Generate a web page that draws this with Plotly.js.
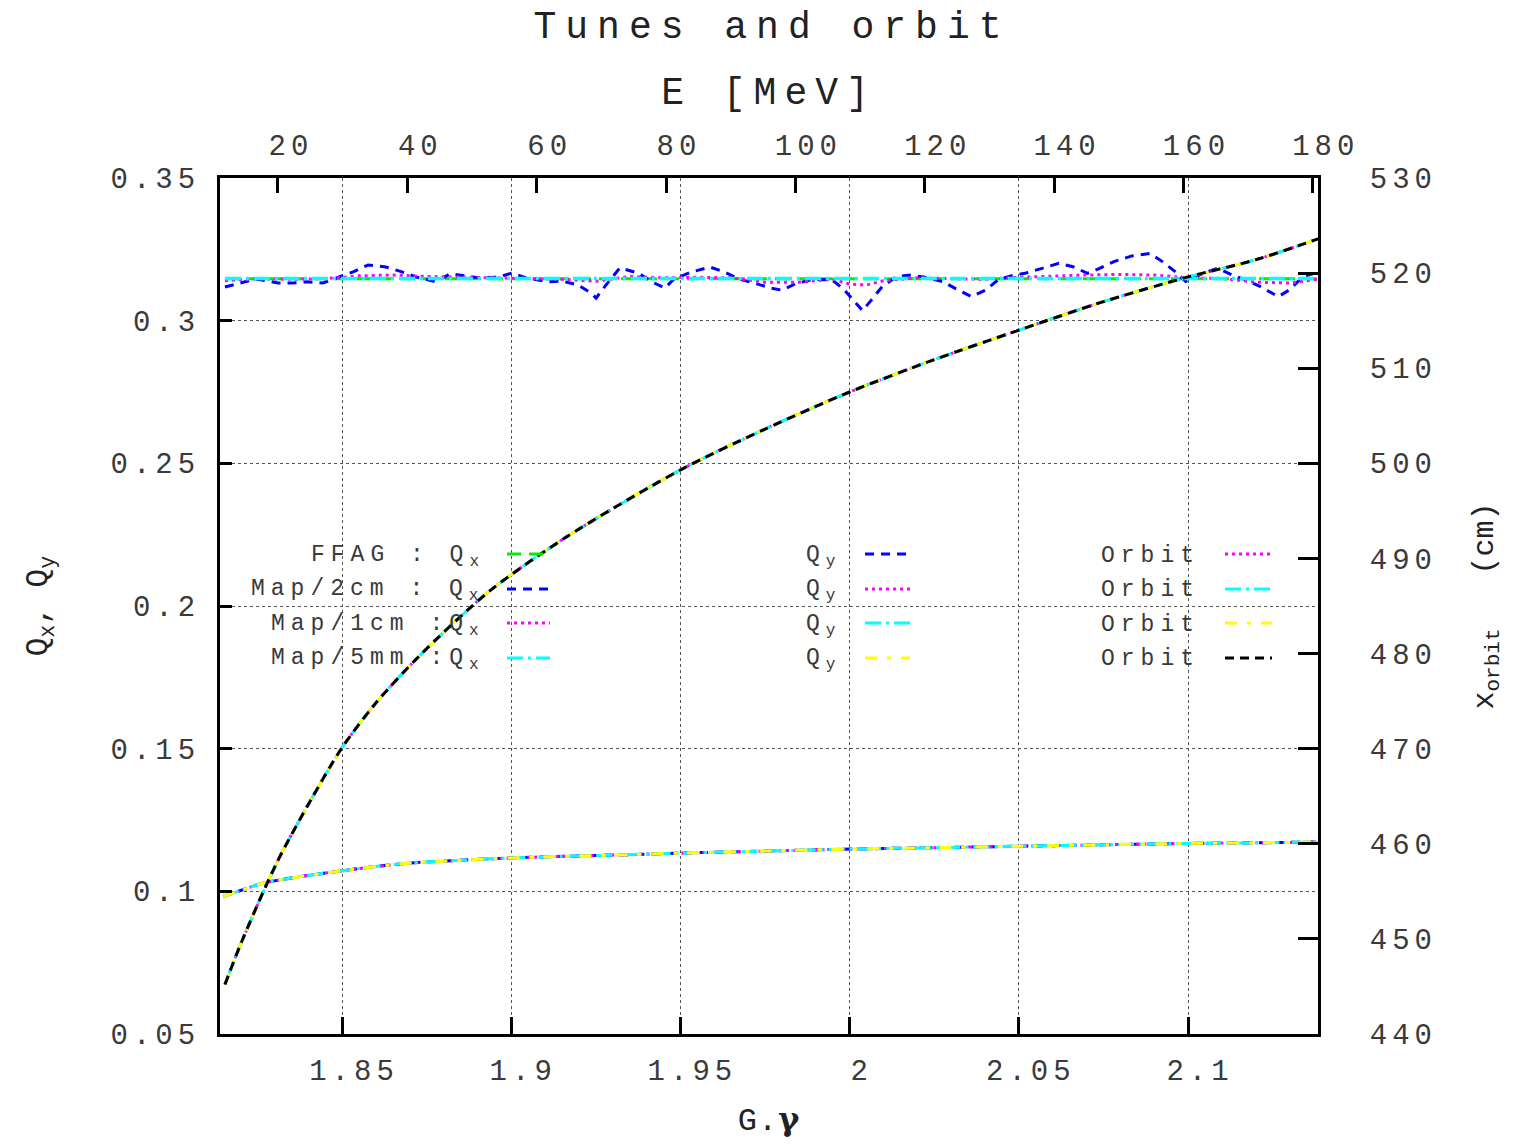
<!DOCTYPE html>
<html>
<head>
<meta charset="utf-8">
<script src="https://cdn.plot.ly/plotly-3.0.1.min.js"></script>
<style>
html,body{margin:0;padding:0;background:#fff;}
#chart{width:1516px;height:1145px;}
.xtick text,.ytick text,.x2tick text,.y2tick text{letter-spacing:5px;}
text.gtitle{letter-spacing:9px;}
text.x2title{letter-spacing:8px;}
text.annotation-text{letter-spacing:6px;}
text.xtitle{letter-spacing:1px;}
</style>
</head>
<body>
<div id="chart"></div>
<script>
// ---- Data ----
// Horizontal tunes Qx (left axis) versus G.gamma
const qxFfagG  = [1.8154, 1.85, 1.90, 1.95, 2.00, 2.05, 2.10, 2.1384];
const qxFfag   = [0.3147, 0.3147, 0.3147, 0.3147, 0.3147, 0.3147, 0.3147, 0.3147];

const qx2cmG = [1.8154,1.8246,1.8311,1.8352,1.8394,1.8444,1.8491,1.8533,1.8577,1.8630,
                1.8677,1.8719,1.8778,1.8819,1.8863,1.8905,1.8964,1.9002,1.9044,1.9109,
                1.9150,1.9197,1.9236,1.9251,1.9268,1.9321,1.9375,1.9416,1.9454,1.9481,
                1.9534,1.9587,1.9629,1.9673,1.9726,1.9768,
                1.9800,1.9843,1.9896,1.9948,1.9980,2.0012,2.0038,2.0064,2.0096,2.0138,
                2.0181,2.0223,2.0275,2.0312,2.0360,2.0402,2.0439,2.0476,2.0518,2.0571,
                2.0618,2.0660,2.0703,2.0740,2.0781,2.0834,2.0888,2.0924,2.0962,2.0993,
                2.1045,2.1088,2.1130,2.1171,2.1214,2.1267,2.1298,2.1340,2.1372];
const qx2cm  = [0.3118,0.3146,0.3132,0.3132,0.3136,0.3132,0.3153,0.3171,0.3195,0.3188,
                0.3171,0.3153,0.3136,0.3164,0.3157,0.3150,0.3153,0.3167,0.3150,0.3136,
                0.3139,0.3125,0.3097,0.3079,0.3107,0.3185,0.3167,0.3136,0.3114,0.3146,
                0.3171,0.3188,0.3171,0.3146,0.3129,0.3114,
                0.3107,0.3131,0.3145,0.3143,0.3113,0.3072,0.3035,0.3072,0.3119,0.3154,
                0.3160,0.3152,0.3137,0.3113,0.3084,0.3107,0.3143,0.3157,0.3166,0.3184,
                0.3201,0.3189,0.3166,0.3184,0.3207,0.3227,0.3236,0.3207,0.3172,0.3137,
                0.3166,0.3184,0.3160,0.3143,0.3119,0.3084,0.3107,0.3154,0.3166];

const qx1cmG = [1.8154,1.825,1.835,1.845,1.855,1.865,1.875,1.885,1.895,1.905,1.915,1.925,
                1.935,1.945,1.955,1.965,1.975,1.985,1.995,2.000,2.005,2.010,2.020,2.030,
                2.040,2.050,2.060,2.070,2.080,2.090,2.100,2.110,2.120,2.130,2.1384];
const qx1cm  = [0.3140,0.3147,0.3145,0.3147,0.3157,0.3160,0.3155,0.3152,0.3150,0.3148,0.3145,0.3138,
                0.3155,0.3150,0.3152,0.3150,0.3135,0.3135,0.3145,0.3128,0.3125,0.3140,0.3150,0.3147,
                0.3145,0.3152,0.3157,0.3160,0.3162,0.3160,0.3150,0.3148,0.3135,0.3132,0.3145];

const qx5mmG = [1.8154, 1.85, 1.90, 1.95, 2.00, 2.05, 2.10, 2.1384];
const qx5mm  = [0.3148, 0.3148, 0.3148, 0.3148, 0.3148, 0.3148, 0.3148, 0.3148];

// Vertical tunes Qy (left axis) - the four models overlap
const qyG  = [1.8149,1.8200,1.8268,1.8350,1.8500,1.8600,1.8700,1.8800,1.9000,1.9200,
              1.9300,1.9500,1.9750,2.0000,2.0250,2.0500,2.0750,2.1000,2.1200,2.1384];
const qy2cm = [0.0982,0.1003,0.1029,0.1047,0.1072,0.1087,0.1099,0.1106,0.1117,0.1124,
               0.1127,0.1134,0.1141,0.1148,0.1153,0.1158,0.1163,0.1168,0.1170,0.1173];
const qy1cm = [0.0982,0.1003,0.1029,0.1047,0.1072,0.1087,0.1099,0.1106,0.1117,0.1124,
               0.1127,0.1134,0.1141,0.1148,0.1153,0.1158,0.1163,0.1168,0.1170,0.1173];
const qy5mm = [0.0982,0.1003,0.1029,0.1047,0.1072,0.1087,0.1099,0.1106,0.1117,0.1124,
               0.1127,0.1134,0.1141,0.1148,0.1153,0.1158,0.1163,0.1168,0.1170,0.1173];
const qyFfag = [0.0982,0.1003,0.1029,0.1047,0.1072,0.1087,0.1099,0.1106,0.1117,0.1124,
                0.1127,0.1134,0.1141,0.1148,0.1153,0.1158,0.1163,0.1168,0.1170,0.1173];

// Closed orbit radius (right axis, cm)
const orbitG = [1.8154,1.8200,1.8268,1.8317,1.8411,1.8500,1.8600,1.8730,1.8937,1.9165,
                1.9500,1.9750,2.0000,2.0250,2.0500,2.0750,2.1000,2.1200,2.1384];
const orbitA = [445.2,449.4,455.0,458.7,464.8,470.1,474.8,479.8,486.6,492.3,
                499.3,503.6,507.5,510.9,514.0,517.0,519.6,521.4,523.6];
const orbitB = orbitA.slice();
const orbitC = orbitA.slice();
const orbitD = orbitA.slice();

// Energy axis (top) limits in MeV matching the G.gamma range
const energyRange = [11.04, 180.8];
const gammaRange  = [1.81395, 2.1384];

// Legend labels
const col1Labels = ['FFAG : Q<sub>x</sub>', 'Map/2cm : Q<sub>x</sub>', 'Map/1cm :Q<sub>x</sub>', 'Map/5mm :Q<sub>x</sub>'];
const col2Labels = ['Q<sub>y</sub>','Q<sub>y</sub>','Q<sub>y</sub>','Q<sub>y</sub>'];
const col3Labels = ['Orbit','Orbit','Orbit','Orbit'];

// ---- Styles ----
const GREEN='#00ee00', BLUE='#0000ff', MAG='#ff00ff', CYAN='#00ffff', YEL='#ffff00', BLK='#000000';
const dGreen='14px,8px', dBlue='9px,7px', dMag='3px,4px', dCyan='16px,5px,3px,5px', dYel='12px,10px,4px,10px', dBlk='9px,6px';
const MONO='Liberation Mono, monospace';
const TXT='#3a3a3a';

function tr(x,y,color,dash,yaxis,w,shape){
  return {x:x,y:y,type:'scatter',mode:'lines',yaxis:yaxis||'y',
    line:{color:color,dash:dash,width:w||3,shape:shape||'linear',smoothing:0.8},
    hoverinfo:'skip',showlegend:false};
}

const traces = [
  tr(qxFfagG,qxFfag,GREEN,dGreen),
  tr(qx2cmG,qx2cm,BLUE,dBlue),
  tr(qx1cmG,qx1cm,MAG,dMag),
  tr(qx5mmG,qx5mm,CYAN,dCyan,'y',3.5),
  tr(qyG,qy2cm,BLUE,dBlue,'y',3,'spline'),
  tr(qyG,qy1cm,MAG,dMag,'y',3,'spline'),
  tr(qyG,qy5mm,CYAN,dCyan,'y',3,'spline'),
  tr(qyG,qyFfag,YEL,dYel,'y',3,'spline'),
  tr(orbitG,orbitA,MAG,dMag,'y2',3,'spline'),
  tr(orbitG,orbitB,CYAN,dCyan,'y2',3,'spline'),
  tr(orbitG,orbitC,YEL,dYel,'y2',3,'spline'),
  tr(orbitG,orbitD,BLK,dBlk,'y2',3,'spline'),
  {x:energyRange,y:[null,null],xaxis:'x2',yaxis:'y',type:'scatter',mode:'lines',hoverinfo:'skip',showlegend:false}
];

// ---- Layout helpers (pixel -> paper) ----
const PL=220, PR=1318, PT=178, PB=1034;
const px = v => (v-PL)/(PR-PL);
const py = v => (PB-v)/(PB-PT);

const rowsText = [556,590,625,659];
const rowsLine = [554,589,623,658];
const c1Colors=[[GREEN,dGreen],[BLUE,dBlue],[MAG,dMag],[CYAN,dCyan]];
const c2Colors=[[BLUE,dBlue],[MAG,dMag],[CYAN,dCyan],[YEL,dYel]];
const c3Colors=[[MAG,dMag],[CYAN,dCyan],[YEL,dYel],[BLK,dBlk]];

const annotations=[], shapes=[];
shapes.push({type:'rect',xref:'paper',yref:'paper',x0:px(232),x1:px(1292),y0:py(676),y1:py(537),
  fillcolor:'#ffffff',line:{width:0},layer:'between'});
const legFont={family:MONO,size:23,color:TXT};
for(let i=0;i<4;i++){
  annotations.push({xref:'paper',yref:'paper',x:px(487),y:py(rowsText[i]),xanchor:'right',yanchor:'middle',align:'right',
    text:col1Labels[i],showarrow:false,font:legFont});
  annotations.push({xref:'paper',yref:'paper',x:px(804),y:py(rowsText[i]),xanchor:'left',yanchor:'middle',align:'left',
    text:col2Labels[i],showarrow:false,font:legFont});
  annotations.push({xref:'paper',yref:'paper',x:px(1099),y:py(rowsText[i]),xanchor:'left',yanchor:'middle',align:'left',
    text:col3Labels[i],showarrow:false,font:legFont});
  shapes.push({type:'line',xref:'paper',yref:'paper',x0:px(507),x1:px(550),y0:py(rowsLine[i]),y1:py(rowsLine[i]),
    line:{color:c1Colors[i][0],dash:c1Colors[i][1],width:3},layer:'above'});
  shapes.push({type:'line',xref:'paper',yref:'paper',x0:px(865),x1:px(910),y0:py(rowsLine[i]),y1:py(rowsLine[i]),
    line:{color:c2Colors[i][0],dash:c2Colors[i][1],width:3},layer:'above'});
  shapes.push({type:'line',xref:'paper',yref:'paper',x0:px(1225),x1:px(1272),y0:py(rowsLine[i]),y1:py(rowsLine[i]),
    line:{color:c3Colors[i][0],dash:c3Colors[i][1],width:3},layer:'above'});
}

const axisCommon = {showline:true,linewidth:3,linecolor:'#000',ticks:'inside',tickwidth:3,tickcolor:'#000',
  zeroline:false,automargin:false,tickfont:{family:MONO,size:29,color:TXT}};

const layout = {
  width:1516,height:1145,
  margin:{l:PL,r:1516-PR,t:PT,b:1145-PB,pad:0},
  paper_bgcolor:'#fff',plot_bgcolor:'#fff',showlegend:false,
  font:{family:MONO,color:'#222'},
  title:{text:'Tunes and orbit',font:{family:MONO,size:38,color:'#222'},
    xref:'paper',x:px(772),xanchor:'center',yref:'container',y:1-25/1145,yanchor:'middle'},
  xaxis:Object.assign({},axisCommon,{range:gammaRange,tick0:1.85,dtick:0.05,ticklen:17,
    showgrid:true,gridcolor:'#555',gridwidth:1,griddash:'dot',
    ticklabelshift:12,ticklabelstandoff:8,
    title:{text:'G.<span style="font-family:DejaVu Serif"><b>γ</b></span>',font:{family:MONO,size:32,color:'#222'},standoff:20}}),
  xaxis2:Object.assign({},axisCommon,{overlaying:'x',side:'top',range:energyRange,tick0:0,dtick:20,ticklen:15,
    showgrid:false,ticklabelshift:13,ticklabelstandoff:8,
    title:{text:'E [MeV]',font:{family:MONO,size:38,color:'#222'},standoff:16}}),
  yaxis:Object.assign({},axisCommon,{range:[0.05,0.35],tick0:0.05,dtick:0.05,ticklen:12,
    showgrid:true,gridcolor:'#555',gridwidth:1,griddash:'dot',ticklabelstandoff:11,
    title:{text:'Q<sub>x</sub>, Q<sub>y</sub>',font:{family:MONO,size:31,color:'#222'},standoff:54}}),
  yaxis2:Object.assign({},axisCommon,{overlaying:'y',side:'right',range:[440,530],tick0:440,dtick:10,ticklen:20,
    showgrid:false,ticklabelstandoff:43,
    title:{text:'x<sub>orbit</sub>   (cm)',font:{family:MONO,size:30,color:'#222'},standoff:36}}),
  annotations:annotations,
  shapes:shapes
};

Plotly.newPlot('chart',traces,layout,{staticPlot:true,displayModeBar:false});
</script>
</body>
</html>
